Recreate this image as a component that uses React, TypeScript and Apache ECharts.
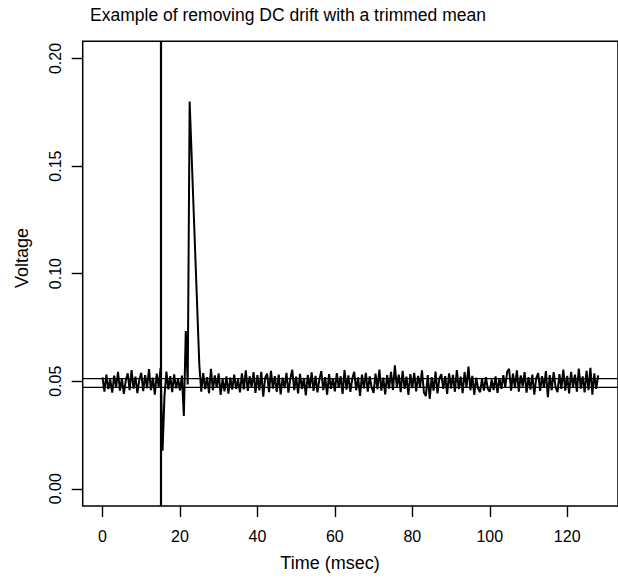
import React, { useEffect, useRef } from "react";
import * as echarts from "echarts";

const chartTitle = "Example of removing DC drift with a trimmed mean";
const xAxisTitle = "Time (msec)";
const yAxisTitle = "Voltage";

const xTickValues = [0, 20, 40, 60, 80, 100, 120];
const yTickValues = [0, 0.05, 0.1, 0.15, 0.2];

const sampleIntervalMs = 0.5;
// recorded voltage, one value every 0.5 ms starting at t = 0
const voltage = [
  0.0518, 0.0452, 0.0531, 0.0463, 0.0509, 0.0447, 0.0526, 0.0471, 0.0543, 0.0456,
  0.0514, 0.0441, 0.0502, 0.0537, 0.0458, 0.0552, 0.0466, 0.0521, 0.0445, 0.0507,
  0.0539, 0.0454, 0.0528, 0.0468, 0.0556, 0.0459, 0.0517, 0.0438, 0.0535, 0.0473,
  0.0561, 0.0177, 0.0431, 0.0545, 0.0462, 0.0524, 0.0449, 0.0532, 0.0467, 0.0511,
  0.0457, 0.0526, 0.0339, 0.0733, 0.0485, 0.18, 0.1555, 0.131, 0.1065, 0.082,
  0.0575, 0.0451, 0.0538, 0.0463, 0.0519, 0.0444, 0.0558, 0.0458, 0.0527, 0.0469,
  0.0536, 0.0436, 0.0511, 0.0453, 0.0522, 0.0442, 0.0517, 0.0461, 0.0531, 0.0464,
  0.0509, 0.0448, 0.0537, 0.0462, 0.0551, 0.0455, 0.0523, 0.0472, 0.0542, 0.0446,
  0.0528, 0.0457, 0.0544, 0.0428, 0.0516, 0.0535, 0.0449, 0.0548, 0.0466, 0.0524,
  0.0451, 0.0531, 0.0439, 0.0517, 0.0468, 0.0539, 0.0447, 0.0512, 0.0553, 0.0459,
  0.0521, 0.0443, 0.0534, 0.0464, 0.0515, 0.0434, 0.0529, 0.0468, 0.0541, 0.0455,
  0.0525, 0.0448, 0.0508, 0.0547, 0.0459, 0.0519, 0.0437, 0.0533, 0.0465, 0.0514,
  0.0453, 0.0538, 0.0469, 0.0523, 0.0441, 0.0552, 0.0461, 0.0527, 0.0451, 0.0512,
  0.0544, 0.0458, 0.0518, 0.0432, 0.0531, 0.0467, 0.0539, 0.0452, 0.0522, 0.0471,
  0.0446, 0.0535, 0.0463, 0.0554, 0.0456, 0.0517, 0.0439, 0.0528, 0.0466, 0.0543,
  0.0459, 0.0574, 0.0472, 0.0531, 0.0449, 0.0548, 0.0464, 0.0521, 0.0436, 0.0533,
  0.0468, 0.0539, 0.0453, 0.0525, 0.0474, 0.0551, 0.0447, 0.0431, 0.0528, 0.0418,
  0.0519, 0.0456, 0.0545, 0.0443, 0.0514, 0.0533, 0.0465, 0.0524, 0.0441, 0.0537,
  0.0467, 0.0529, 0.0451, 0.0552, 0.0463, 0.0521, 0.0445, 0.0543, 0.0472, 0.0568,
  0.0458, 0.0525, 0.0437, 0.0517, 0.0466, 0.0449, 0.0511, 0.0456, 0.0519, 0.0464,
  0.0451, 0.0508, 0.0459, 0.0522, 0.0446, 0.0514, 0.0465, 0.0528, 0.0472, 0.0544,
  0.0558, 0.0456, 0.0535, 0.0468, 0.0551, 0.0452, 0.0527, 0.0475, 0.0542, 0.0447,
  0.0519, 0.0461, 0.0531, 0.0438, 0.0513, 0.0538, 0.0455, 0.0524, 0.0469, 0.0547,
  0.0426, 0.0528, 0.0458, 0.0542, 0.0473, 0.0449, 0.0533, 0.0464, 0.0554, 0.0456,
  0.0525, 0.0443, 0.0544, 0.0471, 0.0531, 0.0452, 0.0559, 0.0466, 0.0522, 0.0448,
  0.0548, 0.0459, 0.0562, 0.0438, 0.0537, 0.0464, 0.0527,
];

const baselineLevels = [0.0512, 0.0471]; // mean and trimmed mean
const stimulusTime = 15;

const xMin = -5.12;
const xMax = 133.12;
const yMin = -0.008;
const yMax = 0.208;

const FONT = "'Liberation Sans', Arial, Helvetica, sans-serif";

export default function App() {
  const ref = useRef<HTMLDivElement>(null);

  useEffect(() => {
    document.body.style.margin = "0";
    if (!ref.current) return;
    const chart = echarts.init(ref.current, null, { renderer: "svg" });
    const seriesData = voltage.map((v, i) => [i * sampleIntervalMs, v]);

    const baselineSeries = baselineLevels.map((y) => ({
      type: "line",
      data: [
        [xMin, y],
        [xMax, y],
      ],
      z: 2,
      symbol: "none",
      silent: true,
      lineStyle: { color: "#000", width: 1.2 },
    }));

    chart.setOption({
      animation: false,
      backgroundColor: "#ffffff",
      grid: {
        left: 82.7,
        right: -3,
        top: 41.3,
        bottom: 73,
        show: true,
        borderColor: "#000",
        borderWidth: 1.5,
        backgroundColor: "transparent",
      },
      xAxis: {
        type: "value",
        min: xMin,
        max: xMax,
        axisLine: { show: false, onZero: false },
        splitLine: { show: false },
        axisTick: {
          show: true,
          customValues: xTickValues,
          length: 11,
          lineStyle: { color: "#000", width: 1.4 },
        },
        axisLabel: {
          customValues: xTickValues,
          margin: 22,
          fontSize: 16,
          color: "#000",
          fontFamily: FONT,
        },
      },
      yAxis: {
        type: "value",
        min: yMin,
        max: yMax,
        axisLine: { show: false, onZero: false },
        splitLine: { show: false },
        axisTick: {
          show: true,
          customValues: yTickValues,
          length: 11,
          lineStyle: { color: "#000", width: 1.4 },
        },
        axisLabel: {
          customValues: yTickValues,
          rotate: 90,
          margin: 19,
          fontSize: 16,
          color: "#000",
          fontFamily: FONT,
          formatter: (v: number) => v.toFixed(2),
        },
      },
      graphic: [
        {
          type: "text",
          x: 288,
          y: 15,
          style: {
            text: chartTitle,
            fontSize: 17.5,
            fontFamily: FONT,
            fill: "#000",
            textAlign: "center",
            textVerticalAlign: "middle",
          },
        },
        {
          type: "text",
          x: 330,
          y: 563,
          style: {
            text: xAxisTitle,
            fontSize: 18,
            fontFamily: FONT,
            fill: "#000",
            textAlign: "center",
            textVerticalAlign: "middle",
          },
        },
        {
          type: "text",
          x: 22,
          y: 258,
          rotation: Math.PI / 2,
          style: {
            text: yAxisTitle,
            fontSize: 18,
            fontFamily: FONT,
            fill: "#000",
            textAlign: "center",
            textVerticalAlign: "middle",
          },
        },
      ],
      series: [
        ...baselineSeries,
        {
          type: "line",
          data: [],
          z: 2,
          silent: true,
          markLine: {
            silent: true,
            symbol: "none",
            label: { show: false },
            animation: false,
            data: [
              {
                xAxis: stimulusTime,
                lineStyle: { color: "#000", width: 2.2, type: "solid" },
              },
            ],
          },
        },
        {
          type: "line",
          data: seriesData,
          z: 3,
          symbol: "none",
          showSymbol: false,
          silent: true,
          lineStyle: { color: "#000", width: 2 },
          clip: true,
        },
      ],
    });
    return () => chart.dispose();
  }, []);

  return <div ref={ref} style={{ width: 618, height: 579 }} />;
}
